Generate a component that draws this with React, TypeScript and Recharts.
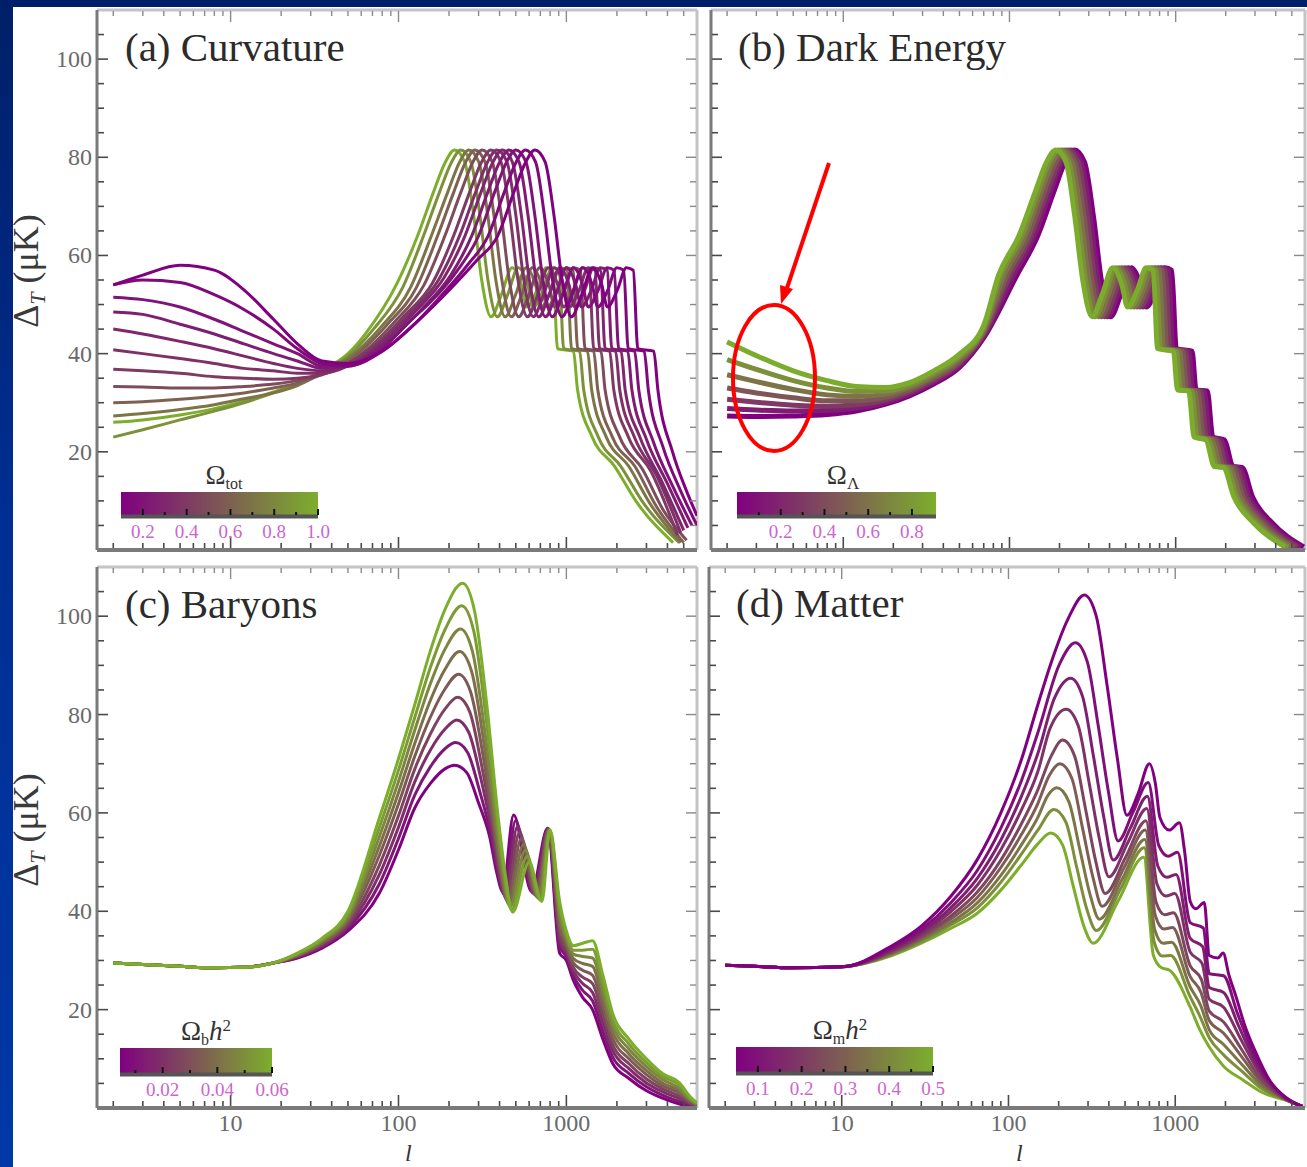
import React from 'react';
import { LineChart, Line, XAxis, YAxis, ReferenceLine } from 'recharts';

type Pair = [number, number];

const SERIF = '"Liberation Serif", "DejaVu Serif", "Times New Roman", serif';

// ---------- shared axes ----------
const ELL_MIN = 1.6;
const ELL_MAX = 6000;
const DT_MAX = 110;
const ellTicks = [2, 3, 4, 5, 6, 7, 8, 9, 10, 20, 30, 40, 50, 60, 70, 80, 90, 100, 200, 300, 400, 500, 600, 700, 800, 900, 1000, 2000, 3000, 4000, 5000];
const ellLabelTicks = [10, 100, 1000];
const dtTicks = [5, 10, 15, 20, 25, 30, 35, 40, 45, 50, 55, 60, 65, 70, 75, 80, 85, 90, 95, 100, 105];
const dtLabelTicks = [20, 40, 60, 80, 100];

// ---------- (a) curvature : Omega_tot ----------
const curvatureOmega = [0.1, 0.15, 0.2, 0.25, 0.3, 0.35, 0.4, 0.5, 0.6, 0.7, 0.85, 1.0];
const curvatureLowEll: Pair[][] = [
  [[2, 54], [3, 56], [5, 58], [8, 57], [12, 53], [18, 47], [25, 42], [35, 38.5], [50, 38], [80, 40.5], [120, 45.5], [195, 52.5], [293, 59]],
  [[2, 54], [3, 55], [5, 54.5], [8, 52], [12, 49], [18, 45], [25, 41], [35, 38], [50, 37.5], [80, 40.5], [120, 45.5], [171, 51], [257, 58]],
  [[2, 51.5], [3, 51], [5, 49.5], [8, 47], [12, 44.5], [18, 42], [25, 40], [35, 37.5], [50, 37.5], [80, 41], [120, 47], [150, 50], [225, 57]],
  [[2, 48.5], [3, 48], [5, 46], [8, 44], [12, 42], [18, 40], [25, 38.5], [35, 37], [50, 37.5], [80, 41.5], [137, 49], [205, 56]],
  [[2, 45], [3, 44], [5, 42.5], [8, 41], [12, 39.5], [18, 38], [25, 37], [35, 36.5], [50, 37.5], [80, 42], [125, 48.5], [187, 55.5]],
  [[2, 40.8], [3, 40], [5, 39], [8, 38], [12, 37], [18, 36.5], [25, 36], [35, 36], [50, 37.5], [80, 42.5], [116, 48], [173, 55]],
  [[2, 36.8], [3, 36.5], [5, 36], [8, 35.3], [12, 35], [18, 34.8], [25, 35], [35, 35.7], [50, 38], [80, 43], [107, 47.5], [160, 54.5]],
  [[2, 33.3], [3, 33.2], [5, 33], [8, 33], [12, 33.3], [18, 33.8], [25, 34.5], [35, 35.8], [50, 38], [95, 46.5], [142, 54]],
  [[2, 30], [3, 30.2], [5, 30.7], [8, 31.3], [12, 32], [18, 33], [25, 34], [35, 35.8], [50, 38.5], [86, 46], [128, 53.5]],
  [[2, 27.3], [3, 27.8], [5, 28.6], [8, 29.6], [12, 30.8], [18, 32], [25, 33.5], [35, 36], [50, 39], [79, 45.5], [118, 53.5]],
  [[2, 23], [3, 24.5], [5, 26.5], [8, 28.3], [12, 30], [18, 32], [25, 33.8], [35, 36.2], [50, 39.5], [71, 45], [106, 53.5]],
  [[2, 26], [3, 26.5], [5, 27.5], [8, 28.8], [12, 30.3], [18, 32.2], [25, 34], [35, 36.5], [50, 40], [65, 44.5], [97, 54]],
];
// multipole positions of the acoustic features of each curve
const curvatureAcousticEll: number[][] = [
  [390, 488, 572, 650, 748, 845, 943, 1073, 1235, 1430, 1625, 1755, 2015, 2275, 2503, 2665, 3315, 3510],
  [342, 428, 502, 570, 656, 741, 827, 941, 1083, 1254, 1425, 1539, 1767, 1995, 2195, 2337, 2907, 3078],
  [300, 375, 440, 500, 575, 650, 725, 825, 950, 1100, 1250, 1350, 1550, 1750, 1925, 2050, 2550, 2700],
  [273, 341, 400, 455, 523, 592, 660, 751, 865, 1001, 1138, 1229, 1411, 1593, 1752, 1866, 2321, 2457],
  [249, 311, 365, 415, 477, 540, 602, 685, 789, 913, 1038, 1121, 1287, 1453, 1598, 1702, 2117, 2241],
  [231, 289, 339, 385, 443, 501, 558, 635, 732, 847, 963, 1040, 1194, 1348, 1482, 1579, 1964, 2079],
  [213, 266, 312, 355, 408, 462, 515, 586, 675, 781, 888, 959, 1101, 1243, 1367, 1456, 1811, 1917],
  [189, 236, 277, 315, 362, 410, 457, 520, 599, 693, 788, 851, 977, 1103, 1213, 1292, 1607, 1701],
  [171, 214, 251, 285, 328, 371, 413, 470, 542, 627, 713, 770, 884, 998, 1097, 1169, 1454, 1539],
  [157, 197, 231, 262, 301, 341, 380, 432, 498, 576, 655, 707, 812, 917, 1009, 1074, 1336, 1415],
  [141, 176, 207, 235, 270, 306, 341, 388, 447, 517, 588, 635, 729, 823, 905, 964, 1199, 1269],
  [130, 162, 190, 216, 248, 281, 313, 356, 410, 475, 540, 583, 670, 756, 832, 886, 1102, 1166],
];
// heights of those features, common to every curve of the panel
const curvatureAcousticLevel = [64, 73, 79, 81.5, 79, 68, 55, 47.5, 52, 57.5, 54, 49.5, 53, 57.5, 57, 41, 40.5, 32.6];
// damping tail of each curve
const curvatureTail: Pair[][] = [
  [[4290, 20], [5200, 12], [6000, 7]],
  [[3762, 21], [4800, 12], [6000, 5]],
  [[3300, 22], [4300, 13], [5600, 5]],
  [[3003, 22.5], [4000, 13.5], [5300, 4.5]],
  [[2739, 23], [3700, 14], [5000, 4]],
  [[2541, 23], [3465, 15], [4800, 3.5]],
  [[2343, 23], [3195, 16], [4600, 3]],
  [[2079, 23], [2835, 16.5], [3800, 8], [5200, 2]],
  [[1881, 23], [2565, 17], [3420, 9], [5000, 1.5]],
  [[1729, 23], [2358, 17], [3144, 9.5], [4800, 1.5]],
  [[1551, 23], [2115, 17], [2820, 10], [4700, 1.5]],
  [[1426, 23], [1944, 17], [2592, 10], [4320, 1.5]],
];

// ---------- (b) dark energy : Omega_Lambda ----------
const darkEnergyOmega = [0, 0.15, 0.3, 0.45, 0.6, 0.75, 0.9];
const darkEnergyLowEll: Pair[][] = [
  [[2, 27.3], [3, 27.2], [5, 27.3], [8, 27.6], [12, 28.3], [18, 29.7], [25, 31.4], [35, 33.8], [50, 37.2], [70, 43.2]],
  [[2, 28.8], [3, 28.5], [5, 28.3], [8, 28.4], [12, 28.9], [18, 30.1], [25, 31.8], [35, 34.2], [50, 37.6], [70, 43.6]],
  [[2, 30.7], [3, 30.1], [5, 29.5], [8, 29.3], [12, 29.6], [18, 30.6], [25, 32.2], [35, 34.6], [50, 38], [70, 44]],
  [[2, 33], [3, 32], [5, 31], [8, 30.4], [12, 30.4], [18, 31.1], [25, 32.6], [35, 35], [50, 38.4], [70, 44.4]],
  [[2, 35.7], [3, 34.3], [5, 32.7], [8, 31.6], [12, 31.3], [18, 31.7], [25, 33.1], [35, 35.5], [50, 38.9], [70, 44.8]],
  [[2, 38.8], [3, 36.8], [5, 34.5], [8, 33], [12, 32.3], [18, 32.4], [25, 33.6], [35, 36], [50, 39.4], [70, 45.3]],
  [[2, 42.4], [3, 39.6], [5, 36.5], [8, 34.5], [12, 33.3], [18, 33.1], [25, 34.1], [35, 36.5], [50, 39.9], [70, 45.8]],
];
const darkEnergyAcousticEll: number[][] = [
  [111, 148, 185, 216, 246, 283, 320, 357, 406, 467, 541, 615, 664, 763, 861, 947, 1009, 1255, 1328, 1550, 1673, 1968, 2214, 2509, 2903, 3813, 5904],
  [106, 141, 176, 207, 235, 270, 306, 341, 388, 447, 517, 588, 635, 729, 823, 905, 964, 1199, 1269, 1481, 1598, 1880, 2115, 2397, 2773, 3643, 5640],
  [101, 135, 169, 198, 225, 259, 293, 326, 371, 428, 495, 563, 608, 698, 788, 866, 923, 1148, 1215, 1418, 1530, 1800, 2025, 2295, 2655, 3488, 5400],
  [97, 130, 162, 190, 216, 248, 281, 313, 356, 410, 475, 540, 583, 670, 756, 832, 886, 1102, 1166, 1361, 1469, 1728, 1944, 2203, 2549, 3348, 5184],
  [93, 124, 155, 182, 207, 238, 269, 300, 342, 393, 455, 518, 559, 642, 725, 797, 849, 1056, 1118, 1304, 1408, 1656, 1863, 2111, 2443, 3209, 4968],
  [89, 119, 149, 174, 198, 228, 257, 287, 327, 376, 436, 495, 535, 614, 693, 762, 812, 1010, 1069, 1247, 1346, 1584, 1782, 2020, 2336, 3069, 4752],
  [86, 114, 143, 167, 190, 219, 247, 276, 314, 361, 418, 475, 513, 589, 665, 732, 779, 969, 1026, 1197, 1292, 1520, 1710, 1938, 2242, 2945, 4560],
];
const darkEnergyAcousticLevel = [56, 64, 73, 79, 81.5, 79, 68, 55, 47.5, 52, 57.5, 54, 49.5, 53, 57.5, 57, 41, 40.5, 32.6, 32.4, 23, 22.4, 17, 16.8, 10.8, 5.5, 0.6];

// ---------- (c) baryons : Omega_b h^2 ----------
const baryonOmega = [0.005, 0.012, 0.019, 0.026, 0.033, 0.04, 0.047, 0.054, 0.06];
const baryonCommonLowEll: Pair[] = [[2, 29.5], [3, 29.2], [5, 28.8], [8, 28.5], [12, 28.6], [18, 29.5]];
const baryonCurves: Pair[][] = [
  [[25, 30.5], [35, 32.5], [50, 36], [77, 43.7], [100, 52.5], [125, 61], [155, 66], [190, 69], [216, 69.7], [255, 68.2], [300, 62], [350, 55], [384, 48], [418, 44], [485, 59.6], [621, 44], [774, 56.9], [912, 31.5], [1000, 30], [1100, 26], [1250, 22.5], [1432, 20], [1650, 14], [1884, 9.1], [2360, 6], [3000, 3.5], [3740, 2], [4720, 0.8], [5400, 0.3], [6000, 0.1]],
  [[25, 30.6], [35, 32.8], [50, 36.5], [77, 45.6], [100, 54.8], [125, 63.6], [155, 69.4], [190, 73.1], [219, 74.3], [258, 72.3], [304, 64.5], [355, 55.6], [390, 48], [425, 43.5], [498, 58.4], [632, 43.75], [777, 56.9], [912, 32.8], [1000, 30.8], [1100, 26.9], [1250, 23.9], [1432, 21.8], [1650, 15.6], [1884, 10.4], [2360, 7], [3000, 4.3], [3740, 2.6], [4720, 1.3], [5400, 0.6], [6000, 0.2]],
  [[25, 30.8], [35, 33], [50, 37], [77, 47.5], [100, 57.1], [125, 66.3], [155, 72.8], [190, 77.1], [222, 78.9], [262, 76.4], [309, 67.1], [360, 56.3], [395, 48.1], [433, 43], [511, 57.2], [643, 43.5], [781, 56.8], [912, 34.1], [1000, 31.5], [1100, 27.8], [1250, 25.3], [1432, 23.5], [1650, 17.3], [1884, 11.7], [2360, 8], [3000, 5.1], [3740, 3.3], [4720, 1.9], [5400, 0.9], [6000, 0.3]],
  [[25, 30.9], [35, 33.3], [50, 37.5], [77, 49.4], [100, 59.4], [125, 68.9], [155, 76.1], [190, 81.2], [225, 83.5], [266, 80.5], [313, 69.6], [365, 56.9], [401, 48.2], [440, 42.4], [525, 56], [655, 43.25], [784, 56.8], [912, 35.4], [1000, 32.3], [1100, 28.6], [1250, 26.6], [1432, 25.3], [1650, 18.9], [1884, 12.9], [2360, 9], [3000, 5.9], [3740, 3.9], [4720, 2.4], [5400, 1.1], [6000, 0.4]],
  [[25, 31], [35, 33.5], [50, 38], [77, 51.4], [100, 61.8], [125, 71.5], [155, 79.5], [190, 85.3], [228, 88.2], [269, 84.6], [317, 72.2], [369, 57.5], [406, 48.2], [448, 41.9], [539, 54.8], [666, 43], [787, 56.7], [912, 36.8], [1000, 33], [1100, 29.5], [1250, 28], [1432, 27], [1650, 20.5], [1884, 14.2], [2360, 10], [3000, 6.8], [3740, 4.5], [4720, 3], [5400, 1.4], [6000, 0.55]],
  [[25, 31.1], [35, 33.8], [50, 38.5], [77, 53.3], [100, 64.1], [125, 74.1], [155, 82.9], [190, 89.3], [231, 92.8], [273, 88.7], [321, 74.7], [374, 58.1], [411, 48.2], [455, 41.4], [554, 53.6], [678, 42.75], [790, 56.6], [912, 38.1], [1000, 33.8], [1100, 30.4], [1250, 29.4], [1432, 28.8], [1650, 22.1], [1884, 15.5], [2360, 11], [3000, 7.6], [3740, 5.1], [4720, 3.5], [5400, 1.7], [6000, 0.65]],
  [[25, 31.3], [35, 34], [50, 39], [77, 55.2], [100, 66.4], [125, 76.8], [155, 86.3], [190, 93.4], [234, 97.4], [276, 92.8], [325, 77.2], [379, 58.8], [417, 48.3], [463, 40.9], [569, 52.4], [690, 42.5], [794, 56.6], [912, 39.4], [1000, 34.5], [1100, 31.3], [1250, 30.8], [1432, 30.5], [1650, 23.8], [1884, 16.8], [2360, 12], [3000, 8.4], [3740, 5.8], [4720, 4], [5400, 1.9], [6000, 0.75]],
  [[25, 31.4], [35, 34.3], [50, 39.5], [77, 57.1], [100, 68.7], [125, 79.4], [155, 89.6], [190, 97.4], [238, 102.1], [281, 96.9], [331, 79.8], [386, 59.4], [424, 48.4], [471, 40.3], [584, 51.2], [702, 42.25], [797, 56.5], [912, 40.7], [1000, 35.3], [1100, 32.1], [1250, 32.1], [1432, 32.3], [1650, 25.4], [1884, 18], [2360, 13], [3000, 9.2], [3740, 6.4], [4720, 4.6], [5400, 2.2], [6000, 0.9]],
  [[25, 31.5], [35, 34.5], [50, 40], [77, 59], [100, 71], [125, 82], [155, 93], [190, 101.5], [241, 106.7], [284, 101], [335, 82.3], [390, 60], [429, 48.4], [479, 39.8], [600, 50], [715, 42], [800, 56.5], [912, 42], [1000, 36], [1100, 33], [1250, 33.5], [1432, 34], [1650, 27], [1884, 19.3], [2360, 14], [3000, 10], [3740, 7], [4720, 5.1], [5400, 2.5], [6000, 1]],
];

// ---------- (d) matter : Omega_m h^2 ----------
const matterOmega = [0.05, 0.09, 0.13, 0.18, 0.23, 0.29, 0.35, 0.42, 0.5];
const matterCommonLowEll: Pair[] = [[2, 29], [3, 28.8], [5, 28.5], [10, 28.7]];
const matterCurves: Pair[][] = [
  [[20, 33], [30, 37], [45, 43], [65, 50.5], [90, 60], [120, 71], [150, 82], [180, 90.5], [228, 99.5], [285, 104.3], [336, 100], [390, 86], [450, 71], [513, 59.5], [600, 64], [700, 70], [760, 66], [810, 59], [920, 56.5], [1059, 58], [1140, 52], [1230, 42], [1330, 40.5], [1493, 41.8], [1600, 31], [1800, 30.5], [1936, 31.5], [2100, 27], [2317, 22.6], [2600, 17], [3048, 11.2], [3700, 5.5], [4590, 2.2], [5800, 0.3]],
  [[20, 32.6], [30, 36.3], [45, 41.7], [65, 48.3], [90, 56.9], [120, 66.7], [150, 76.3], [202, 90.2], [252, 94.6], [297, 90.7], [345, 77.8], [398, 64.2], [454, 54.3], [559, 60.2], [689, 66.2], [796, 53.4], [906, 51.2], [1032, 52], [1230, 37.7], [1474, 36.6], [1600, 27.3], [1950, 26.9], [2363, 19.2], [3098, 9.6], [4590, 2.1], [5800, 0.3]],
  [[20, 32.3], [30, 35.8], [45, 40.7], [65, 46.7], [90, 54.5], [120, 63.5], [150, 72.1], [189, 83.4], [236, 87.4], [278, 83.7], [323, 71.6], [373, 59.1], [425, 50.4], [538, 56.9], [681, 63.4], [786, 49.2], [891, 46.9], [1012, 47.5], [1230, 34.5], [1460, 32.8], [1600, 24.5], [1950, 23.5], [2398, 16.7], [3136, 8.4], [4590, 2], [5800, 0.3]],
  [[20, 32], [30, 35.3], [45, 39.9], [65, 45.3], [90, 52.5], [120, 60.7], [150, 68.4], [178, 77.3], [222, 81.1], [262, 77.7], [304, 66.3], [351, 54.7], [400, 47], [520, 54], [675, 60.9], [776, 45.6], [879, 43.1], [995, 43.6], [1230, 31.7], [1448, 29.4], [1600, 22.1], [1950, 20.5], [2428, 14.5], [3169, 7.4], [4590, 1.9], [5800, 0.3]],
  [[20, 31.8], [30, 34.9], [45, 39], [65, 43.9], [90, 50.4], [120, 57.9], [150, 64.7], [180, 71.5], [211, 74.8], [249, 71.6], [289, 61], [333, 50.3], [380, 43.6], [504, 51], [668, 58.4], [767, 41.9], [866, 39.3], [977, 39.7], [1230, 28.9], [1436, 26.1], [1600, 19.7], [1950, 17.5], [2458, 12.3], [3202, 6.3], [4590, 1.8], [5800, 0.3]],
  [[20, 31.6], [30, 34.5], [45, 38.4], [65, 42.8], [90, 48.9], [120, 55.7], [150, 61.9], [175, 67.5], [203, 70], [240, 67], [278, 56.9], [321, 46.9], [365, 41], [492, 48.8], [662, 56.5], [760, 39.1], [856, 36.4], [964, 36.7], [1230, 26.7], [1427, 23.5], [1600, 17.8], [1950, 15.2], [2481, 10.6], [3227, 5.5], [4590, 1.8], [5800, 0.3]],
  [[20, 31.4], [30, 34.2], [45, 37.7], [65, 41.7], [90, 47.3], [120, 53.6], [150, 59.1], [172, 63.5], [195, 65.1], [230, 62.3], [267, 52.8], [308, 43.5], [351, 38.4], [480, 46.5], [657, 54.6], [753, 36.3], [846, 33.5], [950, 33.7], [1230, 24.6], [1418, 20.9], [1600, 15.9], [1950, 12.9], [2504, 8.9], [3252, 4.7], [4590, 1.7], [5800, 0.3]],
  [[20, 31.2], [30, 33.8], [45, 37.2], [65, 40.7], [90, 45.9], [120, 51.7], [150, 56.5], [187, 60.7], [221, 58.1], [256, 49.1], [295, 40.4], [337, 36.1], [469, 44.5], [652, 52.9], [747, 33.8], [837, 30.9], [938, 31], [1230, 22.6], [1409, 18.6], [1600, 14.3], [1950, 10.8], [2525, 7.4], [3275, 4], [4590, 1.7], [5800, 0.3]],
  [[20, 31], [30, 33.5], [45, 36.5], [65, 39.6], [90, 44.3], [120, 49.5], [150, 53.7], [179, 55.9], [211, 53.5], [245, 45], [283, 37], [322, 33.5], [456, 42.2], [647, 51], [740, 31], [827, 28.5], [925, 28], [1230, 20.5], [1400, 16], [1600, 12.4], [1950, 8.5], [2548, 5.7], [3300, 3.2], [4590, 1.6], [5800, 0.3]],
];

// ---------- colour bars ----------
const curvatureBar = { domain: [0.1, 1.0], ticks: [0.2, 0.3, 0.4, 0.5, 0.6, 0.7, 0.8, 0.9, 1.0], labels: [0.2, 0.4, 0.6, 0.8, 1.0], digits: 1 };
const darkEnergyBar = { domain: [0, 0.91], ticks: [0.1, 0.2, 0.3, 0.4, 0.5, 0.6, 0.7, 0.8], labels: [0.2, 0.4, 0.6, 0.8], digits: 1 };
const baryonBar = { domain: [0.0044, 0.06], ticks: [0.01, 0.02, 0.03, 0.04, 0.05, 0.06], labels: [0.02, 0.04, 0.06], digits: 2 };
const matterBar = { domain: [0.05, 0.5], ticks: [0.1, 0.15, 0.2, 0.25, 0.3, 0.35, 0.4, 0.45, 0.5], labels: [0.1, 0.2, 0.3, 0.4, 0.5], digits: 1 };

const LOW_RGB = [128, 0, 128];
const HIGH_RGB = [124, 174, 44];
function cmap(t: number): string {
  const u = Math.max(0, Math.min(1, t));
  const c = LOW_RGB.map((a, i) => Math.round(a + (HIGH_RGB[i] - a) * u));
  return `rgb(${c[0]},${c[1]},${c[2]})`;
}

type Pt = { l: number; v: number };
type Series = { key: string; color: string; points: Pt[] };

const toPoints = (pairs: Pair[]): Pt[] => pairs.map(([l, v]) => ({ l, v }));
const zipEll = (ells: number[], levels: number[]): Pair[] => ells.map((l, i) => [l, levels[i]] as Pair);
const colorFor = (p: number, bar: { domain: number[] }) => cmap((p - bar.domain[0]) / (bar.domain[1] - bar.domain[0]));

const curvatureSeries: Series[] = curvatureOmega.map((om, i) => ({
  key: `tot-${om}`,
  color: colorFor(om, curvatureBar),
  points: toPoints([...curvatureLowEll[i], ...zipEll(curvatureAcousticEll[i], curvatureAcousticLevel), ...curvatureTail[i]]),
}));
const darkEnergySeries: Series[] = darkEnergyOmega.map((om, i) => ({
  key: `lambda-${om}`,
  color: colorFor(om, darkEnergyBar),
  points: toPoints([...darkEnergyLowEll[i], ...zipEll(darkEnergyAcousticEll[i], darkEnergyAcousticLevel)]),
}));
const baryonSeries: Series[] = baryonOmega.map((om, i) => ({
  key: `b-${om}`,
  color: colorFor(om, baryonBar),
  points: toPoints([...baryonCommonLowEll, ...baryonCurves[i]]),
}));
const matterSeries: Series[] = matterOmega.map((om, i) => ({
  key: `m-${om}`,
  color: colorFor(om, matterBar),
  points: toPoints([...matterCommonLowEll, ...matterCurves[i]]),
}));

// ---------- one panel ----------
// axis bands of 1px are kept so that Recharts still draws the axis lines and ticks
const PAD = { top: 14, right: 6, bottom: 70, left: 100 };
const MARGIN = { top: PAD.top, right: PAD.right, bottom: PAD.bottom - 1, left: PAD.left - 1 };

type Box = { left: number; top: number; width: number; height: number };

function Panel({ box, series, lineWidth, yLabels, xLabels }: { box: Box; series: Series[]; lineWidth: number; yLabels: boolean; xLabels: boolean }) {
  const { left, top, width, height } = box;
  const pl = PAD.left;
  const pt = PAD.top;
  const pr = PAD.left + width;
  const pb = PAD.top + height;

  const renderXTick = (p: any) => {
    const x = p.payload && typeof p.payload.coordinate === 'number' ? p.payload.coordinate : p.x;
    const value = p.payload ? p.payload.value : 0;
    const major = ellLabelTicks.includes(value);
    const len = major ? 11 : 5;
    return (
      <g>
        <line x1={x} x2={x} y1={pb - 2} y2={pb - 2 - len} stroke="#4a4a4a" strokeWidth={1.6} />
        <line x1={x} x2={x} y1={pt + 1} y2={pt + 1 + len} stroke="#8a8a8a" strokeWidth={1.4} />
        {xLabels && major ? (
          <text x={x} y={pb + 23} textAnchor="middle" fontFamily={SERIF} fontSize={24} fill="#6a6a6a">{value}</text>
        ) : null}
      </g>
    );
  };

  const renderYTick = (p: any) => {
    const y = p.payload && typeof p.payload.coordinate === 'number' ? p.payload.coordinate : p.y;
    const value = p.payload ? p.payload.value : 0;
    const major = dtLabelTicks.includes(value);
    const len = major ? 10 : 6;
    return (
      <g>
        <line x1={pl + 1} x2={pl + 1 + len} y1={y} y2={y} stroke="#4a4a4a" strokeWidth={1.6} />
        <line x1={pr - 1} x2={pr - 1 - len} y1={y} y2={y} stroke="#8a8a8a" strokeWidth={1.4} />
        {yLabels && major ? (
          <text x={pl - 5} y={y + 8} textAnchor="end" fontFamily={SERIF} fontSize={24} fill="#6a6a6a">{value}</text>
        ) : null}
      </g>
    );
  };

  return (
    <div style={{ position: 'absolute', left: left - PAD.left, top: top - PAD.top }}>
      <LineChart width={width + PAD.left + PAD.right} height={height + PAD.top + PAD.bottom} margin={MARGIN}>
        <XAxis
          dataKey="l"
          type="number"
          scale="log"
          domain={[ELL_MIN, ELL_MAX]}
          allowDataOverflow
          ticks={ellTicks}
          interval={0}
          tick={renderXTick}
          tickLine={false}
          tickSize={0}
          height={1}
          axisLine={{ stroke: '#7a7a7a', strokeWidth: 4 }}
        />
        <YAxis
          type="number"
          domain={[0, DT_MAX]}
          allowDataOverflow
          ticks={dtTicks}
          interval={0}
          tick={renderYTick}
          tickLine={false}
          tickSize={0}
          width={1}
          axisLine={{ stroke: '#7a7a7a', strokeWidth: 3 }}
        />
        <ReferenceLine y={DT_MAX} stroke="#c4c4c4" strokeWidth={3} />
        <ReferenceLine x={ELL_MAX} stroke="#c4c4c4" strokeWidth={3} />
        {series.map((s) => (
          <Line
            key={s.key}
            data={s.points}
            dataKey="v"
            type="monotone"
            stroke={s.color}
            strokeWidth={lineWidth}
            dot={false}
            activeDot={false}
            isAnimationActive={false}
          />
        ))}
      </LineChart>
    </div>
  );
}

// ---------- colour bar legend ----------
type Bar = { domain: number[]; ticks: number[]; labels: number[]; digits: number };

function ColorBar({ x, y, w, h, bar, children }: { x: number; y: number; w: number; h: number; bar: Bar; children?: React.ReactNode }) {
  const pos = (v: number) => x + ((v - bar.domain[0]) / (bar.domain[1] - bar.domain[0])) * w;
  return (
    <g>
      <rect x={x} y={y} width={w} height={h} fill="url(#cbGrad)" />
      <line x1={x} x2={x + w} y1={y + h + 1.5} y2={y + h + 1.5} stroke="#555" strokeWidth={4} />
      {bar.ticks.map((t) => {
        const lab = bar.labels.some((l) => Math.abs(l - t) < 1e-9);
        return <line key={t} x1={pos(t)} x2={pos(t)} y1={y + h} y2={y + h - (lab ? 6 : 3)} stroke="#111" strokeWidth={2} />;
      })}
      {bar.labels.map((t) => (
        <text key={`l${t}`} x={pos(t)} y={y + h + 23} textAnchor="middle" fontFamily={SERIF} fontSize={19} fill="#cc66cc">
          {t.toFixed(bar.digits)}
        </text>
      ))}
      {children}
    </g>
  );
}

const boxA: Box = { left: 97, top: 10, width: 600, height: 540 };
const boxB: Box = { left: 711, top: 10, width: 594, height: 540 };
const boxC: Box = { left: 97, top: 567, width: 600, height: 541 };
const boxD: Box = { left: 709, top: 567, width: 596, height: 541 };

export default function App() {
  const titleStyle = { fontFamily: SERIF, fontSize: 41, fill: '#2b2b2b' } as const;
  const yLabel = (cy: number) => (
    <text transform={`translate(38,${cy}) rotate(-90)`} textAnchor="middle" fontFamily={SERIF} fontSize={36} fill="#3a3a3a">
      Δ<tspan fontStyle="italic" fontSize={22} dy={7}>T</tspan><tspan dy={-7}> (μK)</tspan>
    </text>
  );
  return (
    <div
      style={{
        position: 'absolute',
        left: 0,
        top: 0,
        width: 1307,
        height: 1167,
        overflow: 'hidden',
        background: 'linear-gradient(180deg, #001f68 0%, #002e92 45%, #0038a8 100%)',
      }}
    >
      <div style={{ position: 'absolute', left: 13, top: 7, width: 1294, height: 1160, background: '#ffffff' }} />

      <Panel box={boxA} series={[...curvatureSeries].reverse()} lineWidth={3} yLabels xLabels={false} />
      <Panel box={boxB} series={darkEnergySeries} lineWidth={5} yLabels={false} xLabels={false} />
      <Panel box={boxC} series={baryonSeries} lineWidth={3} yLabels xLabels />
      <Panel box={boxD} series={[...matterSeries].reverse()} lineWidth={3} yLabels={false} xLabels />

      <svg width={1307} height={1167} style={{ position: 'absolute', left: 0, top: 0, pointerEvents: 'none' }}>
        <defs>
          <linearGradient id="cbGrad" x1="0" x2="1" y1="0" y2="0">
            <stop offset="0%" stopColor={cmap(0)} />
            <stop offset="100%" stopColor={cmap(1)} />
          </linearGradient>
        </defs>

        <text x={125} y={61} {...titleStyle}>(a) Curvature</text>
        <text x={738} y={61} {...titleStyle}>(b) Dark Energy</text>
        <text x={125} y={618} {...titleStyle}>(c) Baryons</text>
        <text x={736} y={617} {...titleStyle}>(d) Matter</text>

        {yLabel(271)}
        {yLabel(830)}
        <text x={405} y={1161} fontFamily={SERIF} fontStyle="italic" fontSize={24} fill="#333">l</text>
        <text x={1016} y={1161} fontFamily={SERIF} fontStyle="italic" fontSize={24} fill="#333">l</text>

        <ColorBar x={121} y={492} w={197} h={23} bar={curvatureBar}>
          <text x={224} y={484} textAnchor="middle" fontFamily={SERIF} fontSize={27} fill="#333">
            Ω<tspan fontSize={16} dy={5}>tot</tspan>
          </text>
        </ColorBar>
        <ColorBar x={737} y={492} w={199} h={23} bar={darkEnergyBar}>
          <text x={843} y={484} textAnchor="middle" fontFamily={SERIF} fontSize={27} fill="#333">
            Ω<tspan fontSize={17} dy={5}>Λ</tspan>
          </text>
        </ColorBar>
        <ColorBar x={120} y={1048} w={152} h={25} bar={baryonBar}>
          <text x={206} y={1040} textAnchor="middle" fontFamily={SERIF} fontSize={27} fill="#333">
            Ω<tspan fontSize={16} dy={5}>b</tspan><tspan fontStyle="italic" dy={-5}>h</tspan><tspan fontSize={17} dy={-9}>2</tspan>
          </text>
        </ColorBar>
        <ColorBar x={736} y={1047} w={197} h={25} bar={matterBar}>
          <text x={840} y={1039} textAnchor="middle" fontFamily={SERIF} fontSize={27} fill="#333">
            Ω<tspan fontSize={16} dy={5}>m</tspan><tspan fontStyle="italic" dy={-5}>h</tspan><tspan fontSize={17} dy={-9}>2</tspan>
          </text>
        </ColorBar>

        <ellipse cx={774} cy={378} rx={41} ry={73} fill="none" stroke="#ff0000" strokeWidth={4} />
        <line x1={829} y1={163} x2={787} y2={288} stroke="#ff0000" strokeWidth={4} />
        <polygon points="781,304 793,289 780,285" fill="#ff0000" />
      </svg>
    </div>
  );
}
